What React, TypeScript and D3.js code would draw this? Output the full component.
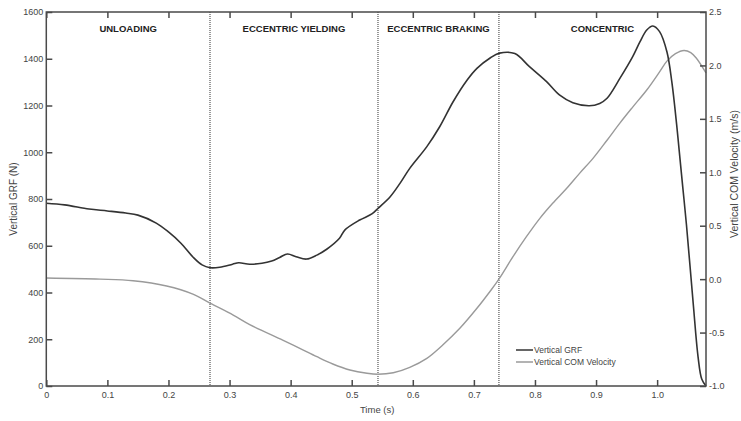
import {useRef, useEffect} from 'react';
import * as d3 from 'd3';

// time (s) and vertical ground reaction force (N)
const GRF_TIME = [
    0, 0.03, 0.07, 0.1, 0.13, 0.15, 0.18, 0.2, 0.22, 0.24, 0.255, 0.268, 0.284, 0.305, 0.315,
    0.333, 0.353, 0.369, 0.382, 0.395, 0.409, 0.426, 0.443, 0.459, 0.48, 0.489, 0.513, 0.533,
    0.543, 0.563, 0.579, 0.595, 0.623, 0.644, 0.666, 0.689, 0.705, 0.726, 0.742, 0.767, 0.791,
    0.819, 0.84, 0.862, 0.889, 0.906, 0.918, 0.939, 0.96, 0.972, 0.983, 0.993, 1.004, 1.016,
    1.024, 1.032, 1.036, 1.042, 1.048, 1.059, 1.067, 1.073, 1.08
];
const GRF_VALUES = [
    782, 775, 757, 749, 740, 731, 697, 659, 612, 552, 518, 506, 508, 521, 527,
    521, 525, 535, 550, 565, 553, 543, 560, 585, 632, 668, 710, 736,
    760, 810, 867, 931, 1024, 1109, 1216, 1309, 1359, 1402, 1424, 1422, 1366,
    1302, 1245, 1212, 1199, 1209, 1231, 1316, 1409, 1473, 1523, 1540, 1516, 1430,
    1302, 1117, 1010, 850, 690, 355, 125, 30, 0
];

// time (s) and vertical centre of mass velocity (m/s)
const VEL_TIME = [
    0, 0.088, 0.142, 0.197, 0.24, 0.268, 0.306, 0.333, 0.387, 0.415, 0.443, 0.469, 0.497,
    0.525, 0.543, 0.568, 0.595, 0.623, 0.649, 0.677, 0.705, 0.726, 0.741, 0.764, 0.786,
    0.808, 0.829, 0.852, 0.873, 0.895, 0.918, 0.939, 0.96, 0.983, 1.004, 1.016, 1.03,
    1.044, 1.055, 1.064, 1.08
];
const VEL_VALUES = [
    0.01, 0.0, -0.015, -0.064, -0.14, -0.225, -0.336, -0.425, -0.57, -0.647, -0.726, -0.794, -0.85,
    -0.881, -0.89, -0.876, -0.825, -0.741, -0.616, -0.46, -0.273, -0.118, 0.0, 0.21, 0.397,
    0.569, 0.71, 0.85, 0.99, 1.13, 1.3, 1.46, 1.61, 1.77, 1.94, 2.04, 2.11,
    2.14, 2.12, 2.07, 1.93
];

const PHASE_BOUNDS = [0, 0.268, 0.543, 0.741, 1.08];
const PHASE_LABELS = ['UNLOADING', 'ECCENTRIC YIELDING', 'ECCENTRIC BRAKING', 'CONCENTRIC'];

const X_TICKS = [0, 0.1, 0.2, 0.3, 0.4, 0.5, 0.6, 0.7, 0.8, 0.9, 1.0];
const GRF_TICKS = [0, 200, 400, 600, 800, 1000, 1200, 1400, 1600];
const VEL_TICKS = [-1.0, -0.5, 0.0, 0.5, 1.0, 1.5, 2.0, 2.5];

const LEGEND = ['Vertical GRF', 'Vertical COM Velocity'];

const FONT = '"Liberation Sans", Arial, sans-serif';
const AXIS_COLOR = '#4a4a4a';
const GRF_COLOR = '#333';
const VEL_COLOR = '#9a9a9a';

export default function App() {
    const xAxis = useRef(null);
    const topAxis = useRef(null);
    const leftAxis = useRef(null);
    const rightAxis = useRef(null);

    const W = 741;
    const H = 421;
    const margin = {left: 46.3, right: 35, top: 12, bottom: 35};

    const xScale = d3.scaleLinear().domain([0, 1.08]).range([margin.left, W - margin.right]);
    const yGrf = d3.scaleLinear().domain([0, 1600]).range([H - margin.bottom, margin.top]);
    const yVel = d3.scaleLinear().domain([-1, 2.5]).range([H - margin.bottom, margin.top]);

    const grfLine = d3.line<number>()
        .x((d, i) => xScale(GRF_TIME[i]))
        .y((d) => yGrf(d))
        .curve(d3.curveCatmullRom.alpha(0.5));

    const velLine = d3.line<number>()
        .x((d, i) => xScale(VEL_TIME[i]))
        .y((d) => yVel(d))
        .curve(d3.curveCatmullRom.alpha(0.5));

    useEffect(() => {
        const fmtX = (d) => (d === 0 ? '0' : d3.format('.1f')(d));
        const fmtV = (d) => d3.format('.1f')(d).replace('\u2212', '-');

        const style = (sel) => {
            sel.select('.domain').remove();
            sel.selectAll('line').attr('stroke', AXIS_COLOR).attr('stroke-width', 1.5);
            sel.selectAll('text').attr('fill', '#444').style('font-family', FONT).style('font-size', '9px');
        };

        d3.select(xAxis.current)
            .call(d3.axisBottom(xScale).tickValues(X_TICKS).tickFormat(fmtX).tickSize(-6).tickPadding(6))
            .call(style);
        d3.select(topAxis.current)
            .call(d3.axisTop(xScale).tickValues(X_TICKS).tickFormat(() => '').tickSize(-6))
            .call(style);
        d3.select(leftAxis.current)
            .call(d3.axisLeft(yGrf).tickValues(GRF_TICKS).tickFormat(d3.format('d')).tickSize(-6).tickPadding(3))
            .call(style);
        d3.select(rightAxis.current)
            .call(d3.axisRight(yVel).tickValues(VEL_TICKS).tickFormat(fmtV).tickSize(-6).tickPadding(3))
            .call(style);
    }, []);

    const x0 = margin.left;
    const x1 = W - margin.right;
    const y0 = margin.top;
    const y1 = H - margin.bottom;

    return (
        <div style={{position: 'absolute', left: 0, top: 0}}>
            <svg width={W} height={H} style={{display: 'block', background: '#fff'}}>
                {/* phase separators */}
                {PHASE_BOUNDS.slice(1, -1).map((t) => (
                    <line key={t} x1={xScale(t)} x2={xScale(t)} y1={y0} y2={y1}
                        stroke="#555" strokeWidth={1.2} strokeDasharray="1,1" />
                ))}

                {PHASE_LABELS.map((label, i) => (
                    <text key={label}
                        x={(xScale(PHASE_BOUNDS[i]) + xScale(PHASE_BOUNDS[i + 1])) / 2}
                        y={32} textAnchor="middle" fontFamily={FONT} fontSize={9.5}
                        fontWeight="bold" fill="#222">
                        {label}
                    </text>
                ))}

                <path d={velLine(VEL_VALUES)} fill="none" stroke={VEL_COLOR} strokeWidth={1.4} />
                <path d={grfLine(GRF_VALUES)} fill="none" stroke={GRF_COLOR} strokeWidth={1.6} />

                {/* axes */}
                <g ref={xAxis} transform={`translate(0, ${y1})`} />
                <g ref={topAxis} transform={`translate(0, ${y0})`} />
                <g ref={leftAxis} transform={`translate(${x0}, 0)`} />
                <g ref={rightAxis} transform={`translate(${x1}, 0)`} />
                <rect x={x0} y={y0} width={x1 - x0} height={y1 - y0}
                    fill="none" stroke={AXIS_COLOR} strokeWidth={1.5} />

                {/* axis titles */}
                <text x={(x0 + x1) / 2 + 1} y={413} textAnchor="middle" fontFamily={FONT}
                    fontSize={9.5} fill="#444">Time (s)</text>
                <text transform={`translate(17, ${(y0 + y1) / 2}) rotate(-90)`} textAnchor="middle"
                    fontFamily={FONT} fontSize={10} fill="#444">Vertical GRF (N)</text>
                <text transform={`translate(738, ${(y0 + y1) / 2 - 25}) rotate(-90)`} textAnchor="middle"
                    fontFamily={FONT} fontSize={10.5} fill="#444">Vertical COM Velocity (m/s)</text>

                {/* legend */}
                {LEGEND.map((label, i) => (
                    <g key={label} transform={`translate(516, ${350 + i * 12})`}>
                        <line x1={0} x2={17} y1={0} y2={0}
                            stroke={i === 0 ? GRF_COLOR : VEL_COLOR} strokeWidth={1.5} />
                        <text x={18} y={3} fontFamily={FONT} fontSize={8.5} fill="#444">{label}</text>
                    </g>
                ))}
            </svg>
        </div>
    );
}
